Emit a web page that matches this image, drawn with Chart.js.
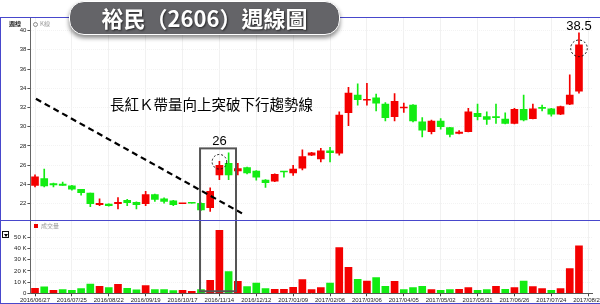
<!DOCTYPE html>
<html>
<head>
<meta charset="utf-8">
<script src="https://cdn.jsdelivr.net/npm/chart.js@4.4.1/dist/chart.umd.min.js"></script>
<style>
  html, body { margin: 0; padding: 0; background: #fff; overflow: hidden; }
  #wrap { position: relative; width: 600px; height: 304px; }
  #wrap canvas { position: absolute; left: 0; top: 0; }
  .banner {
    position: absolute; left: 69px; top: 1px; width: 271px; height: 34px;
    box-sizing: border-box; border: 1.5px solid #fff; border-radius: 15px;
    background: #646468; box-shadow: 0 3px 4px rgba(0,0,0,0.45);
    color: #fff; font: bold 22px "Noto Sans CJK TC", sans-serif;
    text-align: center; line-height: 31px; text-shadow: 1px 1px 2px rgba(0,0,0,0.6);
  }
  .legend { position: absolute; font: 6px "Noto Sans CJK TC", sans-serif; white-space: nowrap; }
  .legend b { color: #222; }
  .legend span { color: #999; }
  .dot { display: inline-block; width: 3px; height: 3px; border: 1px solid #888; border-radius: 50%; margin-right: 2px; vertical-align: middle; }
  .sq { display: inline-block; width: 4px; height: 4px; background: #e00; margin-right: 3px; vertical-align: middle; }
  .toggle { position: absolute; left: 2px; top: 231px; width: 7px; height: 7px; box-sizing: border-box; border: 1px solid #111; background: #fff; }
  .toggle::after { content: ""; position: absolute; left: 0.5px; top: 1.5px; border-left: 2.5px solid transparent; border-right: 2.5px solid transparent; border-top: 3px solid #000; }
</style>
</head>
<body>
<div id="wrap">
  <canvas id="chart" width="600" height="304"></canvas>
  <div class="banner">裕民（2606）週線圖</div>
  <div class="legend" style="left:9px;top:19px;"><b>週線</b></div>
  <div class="legend" style="left:33px;top:19px;"><i class="dot"></i><span>K線</span></div>
  <div class="legend" style="left:34px;top:221px;"><i class="sq"></i><span>成交量</span></div>
  <div class="toggle"></div>
</div>
<script>
// Weekly sessions (first trading day of each week)
const weeks = [
  '2016/06/27','2016/07/04','2016/07/11','2016/07/18','2016/07/25','2016/08/01','2016/08/08','2016/08/15',
  '2016/08/22','2016/08/29','2016/09/05','2016/09/12','2016/09/19','2016/09/26','2016/10/03','2016/10/11',
  '2016/10/17','2016/10/24','2016/10/31','2016/11/07','2016/11/14','2016/11/21','2016/11/28','2016/12/05',
  '2016/12/12','2016/12/19','2016/12/26','2017/01/03','2017/01/09','2017/01/16','2017/01/23','2017/02/02',
  '2017/02/06','2017/02/13','2017/02/20','2017/03/01','2017/03/06','2017/03/13','2017/03/20','2017/03/27',
  '2017/04/05','2017/04/10','2017/04/17','2017/04/24','2017/05/02','2017/05/08','2017/05/15','2017/05/22',
  '2017/05/31','2017/06/05','2017/06/12','2017/06/19','2017/06/26','2017/07/03','2017/07/10','2017/07/17',
  '2017/07/24','2017/07/31','2017/08/07','2017/08/14','2017/08/21'
];

// Weekly OHLC
const opens = [
  23.9, 24.6, 24.1, 24.05, 23.85, 23.5, 23.1, 21.9, 21.95, 22.0, 22.35, 22.15, 22.0, 22.95, 22.5, 22.3,
  22.0, 22.15, 22.05, 21.6, 25.0, 26.2, 25.4, 25.75, 25.4, 24.45, 24.35, 25.35, 25.2, 25.7, 27.05, 26.65,
  27.5, 27.25, 31.45, 33.3, 32.75, 33.0, 32.35, 31.05, 31.95, 32.25, 30.5, 29.5, 30.6, 29.9, 29.3, 29.5,
  31.4, 31.05, 31.0, 30.8, 30.35, 31.8, 30.85, 31.95, 31.85, 31.3, 32.35, 33.7, null
];
const highs = [
  25.0, 25.6, 24.15, 24.25, 23.9, 23.5, 23.1, 22.5, 22.0, 22.65, 22.45, 22.2, 23.3, 23.0, 22.6, 22.35,
  22.0, 22.15, 22.1, 23.65, 26.4, 27.3, 26.2, 25.8, 25.45, 24.5, 25.1, 25.35, 26.0, 27.6, 27.35, 27.75,
  27.85, 31.55, 34.1, 34.45, 34.5, 33.4, 32.5, 33.45, 32.45, 32.3, 30.95, 30.7, 30.85, 29.95, 29.6, 31.9,
  32.35, 31.55, 32.35, 31.45, 31.9, 33.3, 32.35, 32.25, 31.9, 32.15, 35.4, 39.75, null
];
const lows = [
  23.75, 23.75, 23.75, 23.9, 23.4, 22.9, 21.7, 21.8, 21.75, 21.45, 21.8, 21.45, 21.8, 22.25, 22.05, 21.8,
  22.0, 22.05, 21.3, 21.2, 24.5, 24.5, 25.0, 25.1, 24.45, 23.7, 24.3, 24.75, 24.95, 25.5, 27.0, 26.35,
  26.35, 27.05, 30.1, 32.25, 32.25, 31.65, 30.6, 30.6, 31.5, 30.5, 28.95, 29.25, 29.75, 28.95, 29.25, 29.45,
  30.7, 30.25, 30.35, 30.3, 30.3, 30.6, 30.8, 31.65, 31.1, 31.25, 32.3, 33.5, null
];
const closes = [
  24.8, 23.85, 23.95, 23.9, 23.5, 23.15, 22.0, 22.05, 21.8, 22.15, 22.1, 21.9, 22.95, 22.45, 22.25, 21.9,
  22.0, 22.05, 21.35, 23.3, 26.0, 25.0, 25.65, 25.2, 24.75, 24.2, 25.05, 25.3, 25.6, 26.9, 27.3, 27.5,
  27.3, 31.2, 33.5, 32.8, 32.85, 32.45, 30.95, 32.65, 32.0, 30.6, 29.65, 30.6, 30.0, 29.2, 29.45, 31.55,
  31.05, 30.75, 30.95, 30.35, 31.8, 30.7, 31.85, 31.9, 31.3, 32.1, 33.3, 38.5, null
];

// Weekly volume (lots)
const volumes = [
  4500, 5700, 2700, 3300, 2700, 4200, 8300, 6200, 5100, 8000, 4500, 3000, 6800, 3300, 3300, 2400,
  2700, 1800, 3300, 11600, 56300, 19300, 10700, 5900, 9200, 4200, 3600, 3600, 5400, 12200, 3300, 5100,
  9200, 40800, 23200, 12500, 11000, 14000, 6200, 10700, 3300, 5100, 6200, 3300, 2700, 3300, 3600, 5100,
  2700, 3300, 6200, 3600, 5100, 11000, 5900, 4200, 2700, 4200, 22000, 42300, null
];

// Axis ticks
const priceTicks = [22, 24, 26, 28, 30, 32, 34, 36, 38, 40];
const volumeTicks = [0, 10000, 20000, 30000, 40000, 50000];
const dateTickStep = 4;

// Notes drawn over the chart, in week / price / volume units
const trendLine = { from: [0.1, 32.9], to: [22.45, 21.0] };
const focusBox = { fromWeek: 17.9, toWeek: 21.8, topPrice: 27.75, bottomVolume: 1800 };
const callouts = [
  { week: 20, price: 26.0, ringPrice: 26.36, ring: 7.3, text: '26' },
  { week: 59, price: 38.5, ringPrice: 38.15, ring: 8.3, text: '38.5' }
];
const headline = { text: '長紅Ｋ帶量向上突破下行趨勢線', week: 8.13, price: 32.27 };

const RED = '#f40000';
const GREEN = '#12ec12';
const FRAME = '#4848cc';

const candleColors = weeks.map((_, i) =>
  closes[i] == null ? 'transparent' : (closes[i] >= opens[i] ? RED : GREEN));
const volumeColors = weeks.map((_, i) =>
  (i === 0 || closes[i] >= closes[i - 1]) ? RED : GREEN);

const bodies = weeks.map((_, i) => opens[i] == null ? null : [opens[i], closes[i]]);
const wicks = weeks.map((_, i) => lows[i] == null ? null : [lows[i], highs[i]]);

const tickFont = { family: 'Liberation Sans', size: 6 };

const frameLines = {
  id: 'frameLines',
  afterDraw(chart) {
    const { ctx, chartArea, scales: { y } } = chart;
    const w = chart.width, h = chart.height;
    ctx.save();
    ctx.strokeStyle = FRAME;
    ctx.lineWidth = 1;
    ctx.beginPath();
    ctx.moveTo(0, Math.round(chartArea.top) - 0.5); ctx.lineTo(w, Math.round(chartArea.top) - 0.5);
    ctx.moveTo(0, Math.round(y.bottom) + 0.5); ctx.lineTo(w, Math.round(y.bottom) + 0.5);
    ctx.moveTo(0.5, Math.round(chartArea.top) - 0.5); ctx.lineTo(0.5, h);
    ctx.moveTo(0, h - 0.5); ctx.lineTo(w, h - 0.5);
    ctx.stroke();
    ctx.restore();
  }
};

const notes = {
  id: 'notes',
  afterDatasetsDraw(chart) {
    const { ctx, scales: { x, y, yv } } = chart;
    ctx.save();

    // falling trend line
    ctx.strokeStyle = '#000';
    ctx.lineWidth = 2.2;
    ctx.setLineDash([6, 4]);
    ctx.beginPath();
    ctx.moveTo(x.getPixelForValue(trendLine.from[0]), y.getPixelForValue(trendLine.from[1]));
    ctx.lineTo(x.getPixelForValue(trendLine.to[0]), y.getPixelForValue(trendLine.to[1]));
    ctx.stroke();

    // breakout week frame across price and volume
    ctx.setLineDash([]);
    ctx.strokeStyle = '#555';
    ctx.lineWidth = 2;
    const bx0 = x.getPixelForValue(focusBox.fromWeek);
    const bx1 = x.getPixelForValue(focusBox.toWeek);
    const by0 = y.getPixelForValue(focusBox.topPrice);
    const by1 = yv.getPixelForValue(focusBox.bottomVolume);
    ctx.strokeRect(bx0, by0, bx1 - bx0, by1 - by0);

    // rings and value labels
    callouts.forEach(c => {
      const cx = x.getPixelForValue(c.week);
      const cy = y.getPixelForValue(c.ringPrice);
      ctx.setLineDash([2, 2]);
      ctx.lineWidth = 1;
      ctx.strokeStyle = '#111';
      ctx.beginPath();
      ctx.arc(cx, cy, c.ring, 0, Math.PI * 2);
      ctx.stroke();
      ctx.fillStyle = '#000';
      ctx.font = '13px "Liberation Sans", Arial, sans-serif';
      ctx.textAlign = 'center';
      ctx.textBaseline = 'middle';
      ctx.fillText(c.text, cx, cy - c.ring - 13.5);
    });

    // headline note
    ctx.fillStyle = '#000';
    ctx.font = '14.5px "Noto Sans CJK TC", sans-serif';
    ctx.textAlign = 'left';
    ctx.textBaseline = 'middle';
    ctx.fillText(headline.text, x.getPixelForValue(headline.week), y.getPixelForValue(headline.price));

    ctx.restore();
  }
};

new Chart(document.getElementById('chart'), {
  type: 'bar',
  data: {
    labels: weeks,
    datasets: [
      {
        label: 'K線',
        data: bodies,
        yAxisID: 'y',
        backgroundColor: candleColors,
        barThickness: 7,
        minBarLength: 1,
        grouped: false
      },
      {
        label: 'K線影線',
        data: wicks,
        yAxisID: 'y',
        backgroundColor: candleColors,
        barThickness: 1,
        grouped: false
      },
      {
        label: '成交量',
        data: volumes,
        yAxisID: 'yv',
        backgroundColor: volumeColors,
        borderWidth: 0,
        barThickness: 7,
        grouped: false
      }
    ]
  },
  options: {
    responsive: false,
    animation: false,
    devicePixelRatio: 1,
    layout: { padding: { top: 18, right: 7.2, left: 0, bottom: 0 } },
    plugins: { legend: { display: false }, tooltip: { enabled: false } },
    scales: {
      x: {
        type: 'category',
        offset: true,
        grid: {
          offset: false,
          drawOnChartArea: true,
          color: ctx => (ctx.index % dateTickStep === 0 ? '#f1f1f1' : 'transparent'),
          tickColor: ctx => (ctx.index % dateTickStep === 0 ? '#444' : 'transparent'),
          tickLength: 3
        },
        border: { color: '#555', width: 1 },
        ticks: {
          autoSkip: false,
          maxRotation: 0,
          minRotation: 0,
          padding: 0.5,
          color: '#222',
          font: tickFont,
          callback: (v, i) => (i % dateTickStep === 0 ? weeks[i] : '')
        },
        afterFit(scale) {
          scale.height = 10.7;
          scale.paddingLeft = 0; scale.paddingRight = 0;
        }
      },
      yv: {
        type: 'linear',
        position: 'left',
        stack: 'panels',
        stackWeight: 73.8,
        min: 0,
        max: 65900,
        afterBuildTicks(scale) { scale.ticks = volumeTicks.map(v => ({ value: v })); },
        grid: { color: '#f3f3f3', tickColor: '#555', tickLength: 3 },
        border: { color: '#666', width: 1, dash: [1, 1] },
        ticks: {
          autoSkip: false,
          color: '#222',
          font: tickFont,
          padding: 1,
          callback: v => (v === 0 ? '0' : (v / 1000) + ' K')
        },
        afterFit(scale) {
          scale.width = 30.4;
          scale.paddingTop = 0; scale.paddingBottom = 0;
        }
      },
      y: {
        type: 'linear',
        position: 'left',
        stack: 'panels',
        stackWeight: 201.5,
        min: 20.36,
        max: 41.3,
        afterBuildTicks(scale) { scale.ticks = priceTicks.map(v => ({ value: v })); },
        grid: { color: '#f3f3f3', tickColor: '#555', tickLength: 3 },
        border: { color: '#666', width: 1, dash: [1, 1] },
        ticks: { autoSkip: false, color: '#222', font: tickFont, padding: 1 },
        afterFit(scale) {
          scale.width = 30.4;
          scale.paddingTop = 0; scale.paddingBottom = 0;
        }
      }
    }
  },
  plugins: [notes, frameLines]
});
</script>
</body>
</html>
